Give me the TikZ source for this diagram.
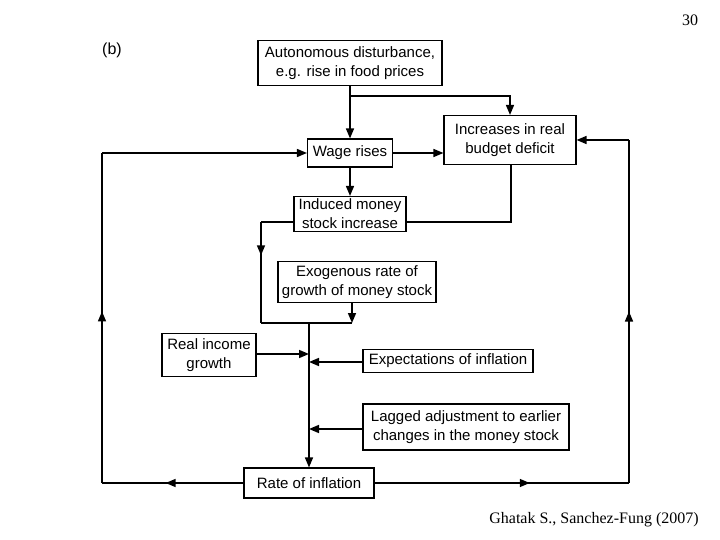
\documentclass[tikz,border=0pt]{standalone}
\usepackage{fontspec}
\setmainfont{Liberation Serif}
\setsansfont{Liberation Sans}
\usetikzlibrary{positioning,arrows.meta,decorations.markings}

\tikzset{
	box/.style={draw, line width=1.1pt, font=\sffamily\fontsize{15}{19}\selectfont, align=center, inner sep=0pt},
	link/.style={line width=1.5pt},
	arrowed/.style={-{Triangle[length=10pt,width=8pt]}},
	midtip/.style={postaction={decorate}, decoration={markings, mark=at position #1 with {\arrow{Triangle[length=10pt,width=8pt]}}}},
}

\begin{document}
\begin{tikzpicture}[x=1pt,y=-1pt]
								\def\L{102}
								\def\R{629}
								\def\M{309}
								\useasboundingbox (0,0) rectangle (720,540);
								
								% boxes
								\node[box, minimum width=184pt, minimum height=45pt] (auto) at (350,63) {Autonomous disturbance,\\e.g. rise in food prices};
								\node[box, minimum width=132pt, minimum height=49pt] (budget) at (510,140) {Increases in real\\budget deficit};
								\node[box, minimum width=85pt, minimum height=28pt] (wage) at (350,153) {Wage rises};
								\node[box, minimum width=112pt, minimum height=35pt] (induced) at (350,214) {Induced money\\stock increase};
								\node[box, minimum width=158pt, minimum height=41pt] (exo) at (357,282) {Exogenous rate of\\growth of money stock};
								\node[box, minimum width=94pt, minimum height=43pt] (real) at (209,355) {Real income\\growth};
								\node[box, minimum width=170pt, minimum height=23pt] (expect) at (448,361) {Expectations of inflation};
								\node[box, minimum width=206pt, minimum height=46pt] (lagged) at (466,427) {Lagged adjustment to earlier\\changes in the money stock};
								\node[box, minimum width=130pt, minimum height=30pt] (rate) at (\M,483) {Rate of inflation};
								
								% junctions
								\coordinate (split) at (350,96);
								\coordinate (bd) at (511,222);
								\coordinate (il) at (261,222);
								\coordinate (jl) at (261,323);
								\coordinate (jm) at (\M,323);
								\coordinate (jr) at (352,323);
								\coordinate (bl) at (\L,483);
								\coordinate (tl) at (\L,153);
								\coordinate (br) at (\R,483);
								\coordinate (tr) at (\R,140);
								
								% top part
								\draw[link, arrowed] (auto.south) -- (wage.north);
								\draw[link, arrowed] (split) -| (budget.north);
								\draw[link, arrowed] (wage.east) -- (wage.east -| budget.west);
								\draw[link, arrowed] (wage.south) -- (induced.north);
								\draw[link] (budget.south -| bd) -- (bd) -- (bd -| induced.east);
								
								% money stock into the main line
								\draw[link] (il -| induced.west) -- (il);
								\draw[link, midtip=0.33] (il) -- (jl);
								\draw[link] (jl) -- (jr);
								\draw[link, arrowed] (exo.south -| jr) -- (jr);
								\draw[link, arrowed] (jm) -- (rate.north);
								
								% side inputs
								\draw[link, arrowed] (real.east |- 0,354) -- (\M,354);
								\draw[link, arrowed] (expect.west |- 0,362) -- (\M,362);
								\draw[link, arrowed] (lagged.west |- 0,429) -- (\M,429);
								
								% left loop
								\draw[link, midtip=0.55] (rate.west) -- (bl);
								\draw[link, midtip=0.52] (bl) -- (tl);
								\draw[link, arrowed] (tl) -- (wage.west);
								
								% right loop
								\draw[link, midtip=0.61] (rate.east) -- (br);
								\draw[link, midtip=0.5] (br) -- (tr);
								\draw[link, arrowed] (tr) -- (budget.east);
								
								% labels
								\node[font=\sffamily\fontsize{16}{18}\selectfont] (tag) at (112,50) {(b)};
								\node[font=\fontsize{16}{18}\selectfont] (page) at (690,20) {30};
								\node[font=\fontsize{16}{18}\selectfont] (cite) at (594,520) {Ghatak S., Sanchez-Fung (2007)};
							\end{tikzpicture}
\end{document}
